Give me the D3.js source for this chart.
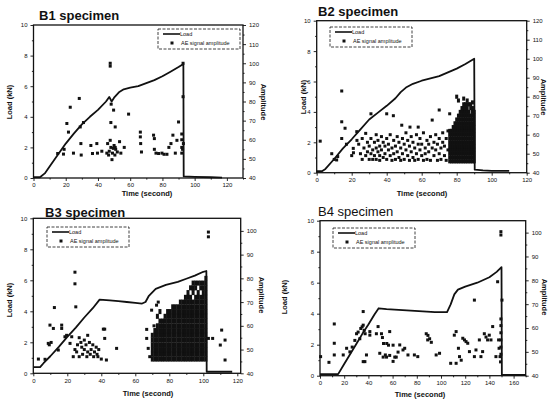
<!DOCTYPE html>
<html>
<head>
<meta charset="utf-8">
<script src="https://cdn.jsdelivr.net/npm/d3@7"></script>
<style>
  body { margin: 0; background: #fff; }
  svg { display: block; }
</style>
</head>
<body>
<svg id="chart" width="550" height="400"></svg>
<script>
const FONT = '"Liberation Sans", Arial, Helvetica, sans-serif'

// tick labels
const loadTicks = [0, 2, 4, 6, 8, 10]
const loadMinor = [1, 3, 5, 7, 9]
const timeTicks120 = [0, 20, 40, 60, 80, 100, 120]
const timeMinor120 = [10, 30, 50, 70, 90, 110, 130]
const timeTicks160 = [0, 20, 40, 60, 80, 100, 120, 140, 160]
const timeMinor160 = [10, 30, 50, 70, 90, 110, 130, 150, 170]
const ampTicks120 = [40, 50, 60, 70, 80, 90, 100, 110, 120]
const ampMinor120 = [45, 55, 65, 75, 85, 95, 105, 115]
const ampTicks100 = [40, 50, 60, 70, 80, 90, 100]
const ampMinor100 = [45, 55, 65, 75, 85, 95]

// B1: [time s, load kN] and [time s, amplitude dB]
const b1Load = [[0,0.05],[4,0.05],[7,0.3],[10,0.75],[15,1.5],[20,2.25],[25,2.9],[30,3.5],[35,4.0],[40,4.45],[45,5.0],[47,5.3],[48.5,5.0],[50,5.25],[53,5.6],[56,5.8],[60,5.9],[65,6.0],[70,6.2],[75,6.4],[80,6.65],[85,6.95],[90,7.25],[93,7.45],[93.2,0.1],[100,0.08],[110,0.05],[117,0.02]]
const b1Amp = [[15,52.8],[18.6,52.5],[19,55],[20.7,68.5],[21.7,64],[22.8,77],[24.8,53],[28.4,81.6],[29,66.7],[29.4,58],[29.6,52],[31,69],[35.6,57],[36.6,52.8],[39.3,58],[39.7,53],[42.4,54],[45.5,53],[46,58],[46.6,52],[47.6,100],[47.6,98.5],[47.6,59.7],[48,69],[48.2,78.6],[48.7,49.6],[47,54],[48,56],[49,53],[49.5,55.5],[50,57],[50.5,52],[51,55],[49.7,75.5],[50.7,66.7],[50.7,56],[52,53.6],[53.4,59],[54.2,53],[56.3,56],[59,73.4],[66.3,64],[66.3,61.5],[66.5,58],[67,53.6],[74.5,62.4],[75,60.6],[75,55],[76,53],[77.6,52.8],[79.7,53],[81,52.4],[82.8,52.4],[84,56],[85.3,58],[86.5,62.4],[89,59.7],[88,53],[90,69.3],[92,63],[92,60],[92,56],[92,53],[92.8,82.5],[92.8,100],[93,58],[92.5,55]]
const b1Burst = []

// B2
const b2Load = [[0,0.1],[3,0.1],[5,0.25],[10,0.9],[15,1.6],[20,2.2],[25,2.85],[30,3.5],[35,3.95],[40,4.4],[45,4.9],[48,5.3],[51,5.6],[55,5.85],[60,6.05],[65,6.2],[70,6.35],[75,6.6],[80,6.85],[85,7.15],[90,7.5],[90.3,0.2],[95,0.15],[100,0.12],[110,0.12]]
const b2Amp = [[2,56.6],[8.6,50],[10,47],[11.4,46.7],[12,48.5],[14.3,83],[14.3,66.8],[14.3,58],[16.2,63.4],[17,55],[20,49],[20.9,52.8],[21,50.5],[22.9,61.6],[23,57],
  [24,55],[25,50],[26,58],[26,47],[27,53],[28,60.7],[28,49],[29,56],[29,51],[30,47],[30,54],[31,71],[31,58],[31,50],[32,52],[32,47],[33,56],[33,49],[34,60],[34,53],[34,47],[35,51],[35,57],[36,49],[36,54],[36,46.5],[37,59],[37,52],[38,56],[38,48],[39,50],[39,54],[40,71],[40,58],[40,47],[41,52],[41,55],[42,49],[42,60],[43,46.5],[43,53],[43.8,70],[44,57],[44,50],[45,54],[45,47],[46,59],[46,51],[47,56],[47,48],[48,53],[48.6,65],[48,46.5],[49,58],[49,50],[50,55],[50,47],[51,61],[51,52],[52,49],[52,57],[53,46.5],[53.3,64],[53,54],[54,59],[54,51],[55,48],[55,56],[56,53],[56,46.5],[57,60],[57,50],[58,64],[58,55],[58,47],[59,52],[59,58],[60,49],[60,55],[61,46.5],[61,61],[62,53],[62,50],[63,57],[63,47],[64,55],[64,51],[65,59],[65,46.5],[66,53],[66,67.7],[67,49],[67,56],[68,60],[68,52],[69,46.5],[69,55],[70,73],[70,50],[70,58],[71,53],[71,47],[72,56],[72,61],[73,49],[73,54],[74,58],[74,46.5],[75,52],[75,62],[76,71]]
// dense burst before failure: [time, amplitudes...]
const b2Burst = [
  [76, 46,48,50,52,54,56,58,60,62],
  [77, 46,48,50,52,54,56,58,60,62],
  [78, 46,48,50,52,54,56,58,60,62,64],
  [79, 46,48,50,52,54,56,58,60,62,64,66],
  [80, 46,48,50,52,54,56,58,60,62,64,66,68,80],
  [81, 46,48,50,52,54,56,58,60,62,64,66,68,70,78],
  [82, 46,48,50,52,54,56,58,60,62,64,66,68,70,72],
  [83, 46,48,50,52,54,56,58,60,62,64,66,68,70,72,74],
  [84, 46,48,50,52,54,56,58,60,62,64,66,68,70,72,74,76,79],
  [85, 46,48,50,52,54,56,58,60,62,64,66,68,70,72,74,76],
  [86, 46,48,50,52,54,56,58,60,62,64,66,68,70,72,74,76,78],
  [87, 46,48,50,52,54,56,58,60,62,64,66,68,70,72,76],
  [88, 46,48,50,52,54,56,58,60,62,64,66,68,70,74,76],
  [89, 46,48,50,52,54,56,58,60,62,64,66,68,70,72,74,77],
  [90, 46,48,50,52,54,56,58,60,62,64,66,68,70,72]
]

// B3
const b3Load = [[0,0.4],[4,0.4],[6,0.65],[10,1.1],[15,1.7],[20,2.35],[25,2.95],[30,3.6],[35,4.2],[39,4.75],[45,4.7],[50,4.65],[55,4.6],[60,4.55],[64,4.5],[66,4.6],[68,5.0],[72,5.45],[78,5.7],[85,5.9],[90,6.1],[95,6.3],[100,6.55],[101.8,6.6],[102,0.1],[105,0.1],[110,0.1],[117,0.1]]
const b3Amp = [[3,46],[6.9,45.9],[8.8,52.6],[9.4,52],[9.8,60.3],[10.5,53],[11.8,58.9],[12.4,67.7],[14.7,49.8],[16.7,60.3],[16.7,58.9],[18.6,55.4],[19.6,56],[21.6,52.6],[22.6,55.4],[23.5,47],[24.5,82.6],[24.5,77.7],[25,68],[24.5,50],[25.5,49],[26,52],[27,55],[27,47],[28,53],[28.5,51],[29,48],[30,54],[30,50],[31,52],[31.5,47],[32,56],[32,49],[33,53],[33.5,48],[34,50],[35,52],[35.5,47],[36,49],[37,51],[37.5,48],[38,47],[38.5,50],[40,46],[41.2,58.6],[42,58.6],[42,54.7],[43,45.6],[49,50.5],
  [66.7,58.5],[66.7,54.7],[67.6,50.5],[68.5,47],[69.6,66.6],[71,60],[72.5,68.7],[73.5,70],
  [103,99.5],[103,97.5],[103,54.7],[105.5,54.7],[110,51.9],[110.8,58.2],[112.8,54],[112.8,45.6]]
const b3Burst = [
  [70, 46,48,50,52,54,56],
  [71.5, 46,48,50,52,54,56,58],
  [73, 46,48,50,52,54,56,58,60,64],
  [74.5, 46,48,50,52,54,56,58,60,62,66],
  [76, 46,48,50,52,54,56,58,60,62],
  [77.5, 46,48,50,52,54,56,58,60,62,64],
  [79, 46,48,50,52,54,56,58,60,62,64,66],
  [80.5, 46,48,50,52,54,56,58,60,62,64,66],
  [82, 46,48,50,52,54,56,58,60,62,64,66,68],
  [83.5, 46,48,50,52,54,56,58,60,62,64,66,68],
  [85, 46,48,50,52,54,56,58,60,62,64,66,68],
  [86.5, 46,48,50,52,54,56,58,60,62,64,66,68,70],
  [88, 46,48,50,52,54,56,58,60,62,64,66,68,70],
  [89.5, 46,48,50,52,54,56,58,60,62,64,66,68,70,72],
  [91, 46,48,50,52,54,56,58,60,62,64,66,68,70,72,74],
  [92.5, 46,48,50,52,54,56,58,60,62,64,66,68,70,72,76],
  [94, 46,48,50,52,54,56,58,60,62,64,66,68,70,74,76,78],
  [95.5, 46,48,50,52,54,56,58,60,62,64,66,68,70,72,76,78],
  [97, 46,48,50,52,54,56,58,60,62,64,66,68,70,72,74,78],
  [98.5, 46,48,50,52,54,56,58,60,62,64,66,68,70,72,76,78],
  [100, 46,48,50,52,54,56,58,60,62,64,66,68,70,72,74,76,78],
  [101.5, 46,48,50,52,54,56,58,60,62,64,66,68,70,72,74,76,78,80]
]

// B4
const b4Load = [[0,0.1],[10,0.1],[15,0.1],[20,0.75],[25,1.4],[30,2.05],[35,2.7],[40,3.3],[45,3.95],[48.5,4.35],[55,4.3],[65,4.25],[75,4.2],[85,4.15],[95,4.1],[105,4.1],[108,4.6],[111,5.25],[114,5.55],[120,5.75],[130,6.0],[140,6.35],[146,6.7],[150,7.0],[150.3,0.05],[155,0.05],[165,0.05],[170,0.05]]
const b4Amp = [[0.5,48],[7.4,45.6],[11.8,48.7],[11.8,53.6],[11.8,61.7],[19.2,48.7],[22,51.5],[24.7,50],[26.6,52],[28.8,54.8],[30.2,57.6],[31.5,58.3],[32.9,55.5],[33.7,59.8],[34.8,60.5],[35.7,61.2],[35.7,66.9],[36.5,59],[37.3,57.6],[35.7,45.9],[37.1,45.9],[38.4,48.7],[41.2,58.5],[41.2,57],[46.6,57.6],[48,60.6],[50.8,57.6],[51.6,56],[52.5,53.5],[55.2,53.5],[56.6,52.8],[54,48.7],[49.4,49.4],[52.2,47.8],[55,47.8],[57.6,48.5],[57.6,58.5],[60.4,52.8],[60.4,46],[61.8,47.8],[63,47.8],[64.5,49.9],[65.9,52.9],[68.6,50.8],[70,51.5],[72.7,48.7],[78,48.7],[80.8,48],[87.8,57.6],[89.2,56.9],[90.6,55.5],[92,54],[89,55],[96,48.7],[98.8,49.4],[108,45.2],[111,57],[112.5,58.5],[112.5,45.2],[114.4,51.5],[115.3,48],[116.7,46.5],[118,55.7],[119.4,55],[120.7,54.3],[122.1,53.6],[123.5,50.1],[127.6,71.7],[127.6,48],[128.9,50.8],[131.7,55],[133,48],[134.4,50.1],[135.8,57.6],[137.2,56.2],[138.5,55],[139.9,57],[141.3,55],[142.7,60.6],[145.4,48],[146.8,79.4],[147.6,55],[148,51.5],[148.8,48],[149.2,45.8],[149.5,63.8],[149.5,61],[149.5,58],[149.5,55],[149.5,52],[149.5,49],[150.4,71.7],[149.5,100.4],[149.5,99]]
const b4Burst = []

const panels = [
  { title: 'B1 specimen', bold: true, titlePos: [39, 20], box: [33.5, 25, 243, 178], xDomain: [0, 130], ampDomain: [40, 120],
    xTicks: timeTicks120, xMinor: timeMinor120, ampTicks: ampTicks120, ampMinor: ampMinor120,
    load: b1Load, amp: b1Amp, burst: b1Burst, legend: [158, 29], loadLab: [12, 102], timeLab: [147, 196], ampLab: [261, 102] },
  { title: 'B2 specimen', bold: true, titlePos: [318, 16], box: [316.7, 20.7, 526.7, 172.7], xDomain: [0, 120], ampDomain: [40, 120],
    xTicks: timeTicks120, xMinor: timeMinor120, ampTicks: ampTicks120, ampMinor: ampMinor120,
    load: b2Load, amp: b2Amp, burst: b2Burst, legend: [330, 27], loadLab: [306, 97], timeLab: [422, 196], ampLab: [541, 97] },
  { title: 'B3 specimen', bold: true, titlePos: [45, 217], box: [33.3, 218.3, 240.7, 373.3], xDomain: [0, 122], ampDomain: [40, 105.3],
    xTicks: timeTicks120, xMinor: timeMinor120, ampTicks: ampTicks100, ampMinor: ampMinor100,
    load: b3Load, amp: b3Amp, burst: b3Burst, legend: [47, 227], loadLab: [12, 300], timeLab: [148, 396], ampLab: [259, 295] },
  { title: 'B4 specimen', bold: false, titlePos: [318, 216], box: [320, 220.7, 525.7, 375.7], xDomain: [0, 170], ampDomain: [40, 105],
    xTicks: timeTicks160, xMinor: timeMinor160, ampTicks: ampTicks100, ampMinor: ampMinor100,
    load: b4Load, amp: b4Amp, burst: b4Burst, legend: [333, 228], loadLab: [287, 297], timeLab: [420, 397], ampLab: [542, 297] }
]

const svg = d3.select('#chart')

const styleAxis = g => {
  g.select('.domain').remove()
  g.attr('font-family', FONT).attr('font-size', 6)
  g.selectAll('line').attr('stroke', '#111').attr('stroke-width', 0.9)
  g.selectAll('text').attr('fill', '#111')
}

function drawPanel (p) {
  const [left, top, right, bottom] = p.box
  const x = d3.scaleLinear().domain(p.xDomain).range([left, right])
  const yLoad = d3.scaleLinear().domain([0, 10]).range([bottom, top])
  const yAmp = d3.scaleLinear().domain(p.ampDomain).range([bottom, top])
  const g = svg.append('g')

  // AE signal amplitude squares
  g.append('g')
    .attr('fill', '#111')
    .selectAll('rect')
    .data(p.amp)
    .join('rect')
    .attr('x', d => x(d[0]) - 1.5)
    .attr('y', d => yAmp(d[1]) - 1.5)
    .attr('width', 3)
    .attr('height', 3)

  // dense bursts: squares tall enough to merge into a block
  const burstPts = p.burst.flatMap(([t, ...a]) => a.map(v => [t, v]))
  const bh = Math.max(3, yAmp(46) - yAmp(48) + 0.3)
  g.append('g')
    .attr('fill', '#111')
    .selectAll('rect')
    .data(burstPts)
    .join('rect')
    .attr('x', d => x(d[0]) - 1.5)
    .attr('y', d => yAmp(d[1]) - bh / 2)
    .attr('width', 3)
    .attr('height', bh)

  // load curve
  g.append('path')
    .datum(p.load)
    .attr('fill', 'none')
    .attr('stroke', '#111')
    .attr('stroke-width', 1.8)
    .attr('stroke-linejoin', 'round')
    .attr('d', d3.line().x(d => x(d[0])).y(d => yLoad(d[1])))

  // axes
  g.append('g').attr('transform', `translate(0,${bottom})`)
    .call(d3.axisBottom(x).tickValues(p.xTicks).tickSize(3).tickPadding(2)).call(styleAxis)
  g.append('g').attr('transform', `translate(0,${bottom})`)
    .call(d3.axisBottom(x).tickValues(p.xMinor.filter(v => v <= p.xDomain[1])).tickSize(1.6).tickFormat('')).call(styleAxis)
  g.append('g').attr('transform', `translate(${left},0)`)
    .call(d3.axisLeft(yLoad).tickValues(loadTicks).tickSize(3).tickPadding(3)).call(styleAxis)
  g.append('g').attr('transform', `translate(${left},0)`)
    .call(d3.axisLeft(yLoad).tickValues(loadMinor).tickSize(1.6).tickFormat('')).call(styleAxis)
  g.append('g').attr('transform', `translate(${right},0)`)
    .call(d3.axisRight(yAmp).tickValues(p.ampTicks).tickSize(3).tickPadding(3)).call(styleAxis)
  g.append('g').attr('transform', `translate(${right},0)`)
    .call(d3.axisRight(yAmp).tickValues(p.ampMinor).tickSize(1.6).tickFormat('')).call(styleAxis)

  g.append('rect')
    .attr('x', left).attr('y', top)
    .attr('width', right - left).attr('height', bottom - top)
    .attr('fill', 'none').attr('stroke', '#111').attr('stroke-width', 1.3)

  // legend
  const [lx, ly] = p.legend
  const lg = g.append('g').attr('font-family', FONT).attr('font-size', 5.5).attr('fill', '#111')
  lg.append('rect').attr('x', lx).attr('y', ly).attr('width', 82).attr('height', 20)
    .attr('fill', '#fff').attr('stroke', '#111').attr('stroke-width', 0.8).attr('stroke-dasharray', '3,1.5')
  lg.append('line').attr('x1', lx + 5).attr('x2', lx + 22).attr('y1', ly + 5).attr('y2', ly + 5)
    .attr('stroke', '#111').attr('stroke-width', 1.6)
  lg.append('text').attr('x', lx + 22).attr('y', ly + 7).text('Load')
  lg.append('rect').attr('x', lx + 12.5).attr('y', ly + 12.5).attr('width', 3).attr('height', 3)
  lg.append('text').attr('x', lx + 23).attr('y', ly + 16).text('AE signal amplitude')

  // labels
  const lab = g.append('g').attr('font-family', FONT).attr('font-size', 7.5).attr('font-weight', 'bold').attr('fill', '#111')
  lab.append('text').attr('text-anchor', 'middle')
    .attr('transform', `translate(${p.loadLab[0]},${p.loadLab[1]}) rotate(-90)`).text('Load (kN)')
  lab.append('text').attr('text-anchor', 'middle')
    .attr('x', p.timeLab[0]).attr('y', p.timeLab[1]).text('Time (second)')
  lab.append('text').attr('text-anchor', 'middle')
    .attr('transform', `translate(${p.ampLab[0]},${p.ampLab[1]}) rotate(90)`).text('Amplitude')

  g.append('text')
    .attr('x', p.titlePos[0]).attr('y', p.titlePos[1])
    .attr('font-family', FONT).attr('font-size', 13)
    .attr('font-weight', p.bold ? 'bold' : 'normal')
    .attr('fill', '#111')
    .text(p.title)
}

panels.forEach(drawPanel)
</script>
</body>
</html>
